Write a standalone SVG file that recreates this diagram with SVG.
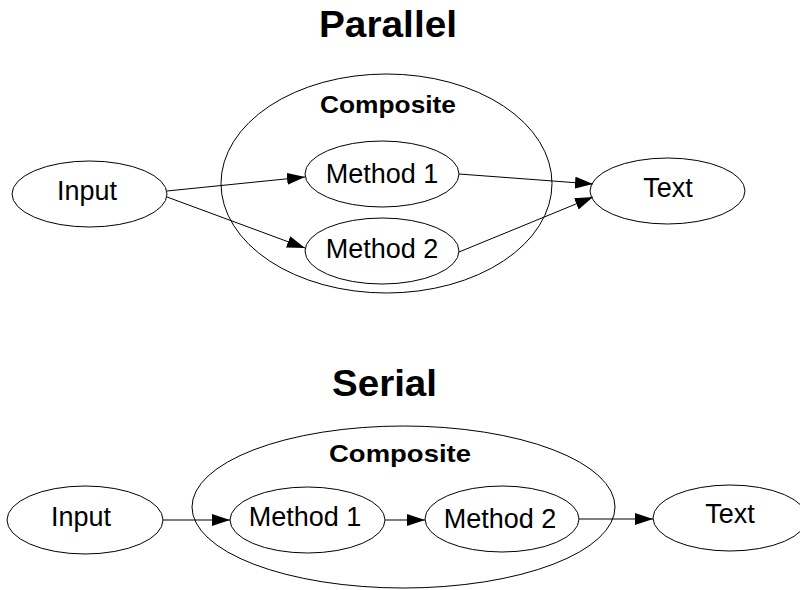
<svg xmlns="http://www.w3.org/2000/svg" width="800" height="590" viewBox="0 0 800 590">
<style>
.n{fill:#fff;stroke:#000;stroke-width:1}
.c{fill:none;stroke:#000;stroke-width:1}
.e{fill:none;stroke:#000;stroke-width:1;marker-end:url(#ah)}
.t{font-family:"Liberation Sans",Arial,sans-serif;font-size:27px;text-anchor:middle;fill:#000}
.h{font-family:"Liberation Sans",Arial,sans-serif;font-size:36px;font-weight:bold;text-anchor:middle;fill:#000}
.s{font-family:"Liberation Sans",Arial,sans-serif;font-size:24px;font-weight:bold;text-anchor:middle;fill:#000}
</style>
<defs>
<marker id="ah" markerUnits="userSpaceOnUse" markerWidth="19" markerHeight="13" refX="18" refY="6" orient="auto" viewBox="0 0 19 13">
<path d="M0,0 L18,6 L0,12 z" fill="#000"/>
</marker>
</defs>
<rect width="800" height="590" fill="#fff"/>
<g id="parallel">
<text class="h" x="388" y="37" textLength="138" lengthAdjust="spacingAndGlyphs">Parallel</text>
<g id="p-composite">
<ellipse class="c" cx="386.5" cy="183.5" rx="165.5" ry="109.5"/>
<text class="s" x="388" y="113" textLength="136" lengthAdjust="spacingAndGlyphs">Composite</text>
</g>
<g id="p-input"><ellipse class="n" cx="89.5" cy="194" rx="77.5" ry="33"/><text class="t" x="87" y="200">Input</text></g>
<g id="p-method1"><ellipse class="n" cx="382" cy="174" rx="77" ry="33"/><text class="t" x="382" y="183">Method 1</text></g>
<g id="p-method2"><ellipse class="n" cx="382" cy="251" rx="77" ry="33"/><text class="t" x="382" y="258">Method 2</text></g>
<g id="p-text"><ellipse class="n" cx="667.5" cy="191" rx="77.5" ry="33"/><text class="t" x="668" y="197">Text</text></g>
<g id="p-edges">
<line class="e" x1="167" y1="191" x2="305" y2="177"/>
<line class="e" x1="167" y1="197" x2="305" y2="248"/>
<line class="e" x1="459" y1="174" x2="593" y2="184"/>
<line class="e" x1="459" y1="252" x2="593" y2="197"/>
</g>
</g>
<g id="serial">
<text class="h" x="384.5" y="396" textLength="105" lengthAdjust="spacingAndGlyphs">Serial</text>
<g id="s-composite">
<ellipse class="c" cx="403.5" cy="507" rx="211.5" ry="81"/>
<text class="s" x="400" y="462" textLength="142" lengthAdjust="spacingAndGlyphs">Composite</text>
</g>
<g id="s-input"><ellipse class="n" cx="85" cy="520" rx="78" ry="34"/><text class="t" x="81" y="526">Input</text></g>
<g id="s-method1"><ellipse class="n" cx="307.5" cy="520" rx="77.5" ry="33"/><text class="t" x="305" y="526">Method 1</text></g>
<g id="s-method2"><ellipse class="n" cx="502" cy="519" rx="77" ry="33"/><text class="t" x="500" y="528">Method 2</text></g>
<g id="s-text"><ellipse class="n" cx="730" cy="518" rx="77" ry="33"/><text class="t" x="730" y="523">Text</text></g>
<g id="s-edges">
<line class="e" x1="163" y1="520" x2="230" y2="520"/>
<line class="e" x1="385" y1="520" x2="425" y2="520"/>
<line class="e" x1="579" y1="519" x2="653" y2="519"/>
</g>
</g>
</svg>
